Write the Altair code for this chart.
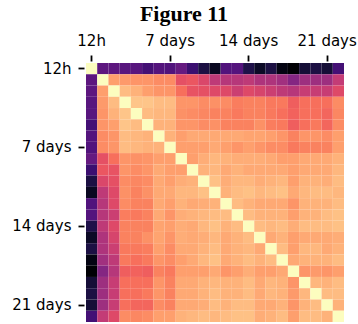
import altair as alt
import pandas as pd

# Lag labels: first cell is 12 hours, then 1..22 days
labels = ["12h", "1 day"] + [f"{d} days" for d in range(2, 23)]
tick_labels = ["12h", "7 days", "14 days", "21 days"]

# Upper-triangle values (row i, columns i+1 .. 22); diagonal = 1
r0 = [0.28, 0.28, 0.27, 0.27, 0.22, 0.26, 0.25, 0.30, 0.20, 0.12, 0.06, 0.25, 0.26, 0.13, 0.07, 0.12, 0.03, 0.00, 0.10, 0.12, 0.10, 0.22]
r1 = [0.80, 0.79, 0.78, 0.78, 0.76, 0.76, 0.62, 0.64, 0.59, 0.52, 0.50, 0.50, 0.52, 0.48, 0.48, 0.45, 0.38, 0.44, 0.44, 0.44, 0.53]
r2 = [0.86, 0.84, 0.80, 0.78, 0.78, 0.70, 0.63, 0.62, 0.60, 0.60, 0.55, 0.60, 0.58, 0.55, 0.52, 0.50, 0.54, 0.54, 0.54, 0.60]
r3 = [0.88, 0.88, 0.86, 0.86, 0.78, 0.78, 0.76, 0.77, 0.76, 0.73, 0.74, 0.74, 0.72, 0.72, 0.66, 0.70, 0.70, 0.70, 0.76]
r4 = [0.86, 0.85, 0.85, 0.77, 0.76, 0.75, 0.74, 0.74, 0.72, 0.74, 0.74, 0.72, 0.70, 0.67, 0.70, 0.70, 0.68, 0.75]
r5 = [0.84, 0.84, 0.78, 0.78, 0.76, 0.77, 0.74, 0.74, 0.74, 0.77, 0.73, 0.72, 0.66, 0.70, 0.72, 0.68, 0.76]
r6 = [0.84, 0.80, 0.82, 0.82, 0.82, 0.82, 0.82, 0.81, 0.81, 0.80, 0.78, 0.74, 0.78, 0.78, 0.76, 0.80]
r7 = [0.80, 0.80, 0.80, 0.82, 0.80, 0.78, 0.80, 0.78, 0.76, 0.76, 0.72, 0.74, 0.74, 0.74, 0.80]
r8 = [0.80, 0.83, 0.85, 0.84, 0.83, 0.83, 0.83, 0.82, 0.80, 0.80, 0.82, 0.82, 0.82, 0.84]
r9 = [0.84, 0.85, 0.82, 0.84, 0.82, 0.82, 0.82, 0.82, 0.80, 0.82, 0.82, 0.82, 0.85]
r10 = [0.87, 0.83, 0.85, 0.85, 0.83, 0.84, 0.85, 0.80, 0.84, 0.84, 0.83, 0.86]
r11 = [0.84, 0.86, 0.87, 0.85, 0.86, 0.87, 0.82, 0.85, 0.86, 0.86, 0.85]
r12 = [0.86, 0.84, 0.82, 0.82, 0.82, 0.78, 0.84, 0.84, 0.84, 0.86]
r13 = [0.86, 0.84, 0.84, 0.84, 0.80, 0.84, 0.84, 0.86, 0.87]
r14 = [0.86, 0.85, 0.86, 0.83, 0.86, 0.86, 0.86, 0.87]
r15 = [0.82, 0.84, 0.80, 0.82, 0.82, 0.82, 0.83]
r16 = [0.86, 0.80, 0.85, 0.85, 0.82, 0.84]
r17 = [0.82, 0.84, 0.84, 0.84, 0.86]
r18 = [0.78, 0.79, 0.78, 0.80]
r19 = [0.85, 0.84, 0.86]
r20 = [0.86, 0.86]
r21 = [0.84]
upper = [r0, r1, r2, r3, r4, r5, r6, r7, r8, r9, r10, r11,
         r12, r13, r14, r15, r16, r17, r18, r19, r20, r21]

n = len(labels)
records = []
for i in range(n):
    for j in range(n):
        if i == j:
            v = 1.0
        else:
            a, b = min(i, j), max(i, j)
            v = upper[a][b - a - 1]
        records.append({"row": labels[i], "col": labels[j], "value": v})
df = pd.DataFrame(records)

axis_common = dict(
    values=tick_labels, title=None, domain=False, labelAngle=0,
    tickColor="black", tickWidth=1.8, tickSize=6, offset=2,
    labelPadding=7, labelFont="DejaVu Sans", labelFontSize=15,
    labelColor="black",
)

chart = alt.Chart(df).mark_rect(strokeWidth=0).encode(
    x=alt.X("col:N", sort=labels,
            scale=alt.Scale(paddingInner=0, paddingOuter=0),
            axis=alt.Axis(orient="top", **axis_common)),
    y=alt.Y("row:N", sort=labels,
            scale=alt.Scale(paddingInner=0, paddingOuter=0),
            axis=alt.Axis(orient="left", **axis_common)),
    color=alt.Color("value:Q", scale=alt.Scale(scheme="magma", domain=[0, 1]), legend=None),
).properties(
    width=258, height=259,
    title=alt.TitleParams("Figure 11", font="Liberation Serif", fontSize=22,
                          fontWeight="bold", anchor="middle", frame="bounds",
                          color="black", offset=7),
    padding={"left": 86, "top": 63, "right": 14, "bottom": 2},
    autosize="none",
).configure_view(stroke=None)

chart.save("out.html", embed_options={"renderer": "svg", "actions": False})
